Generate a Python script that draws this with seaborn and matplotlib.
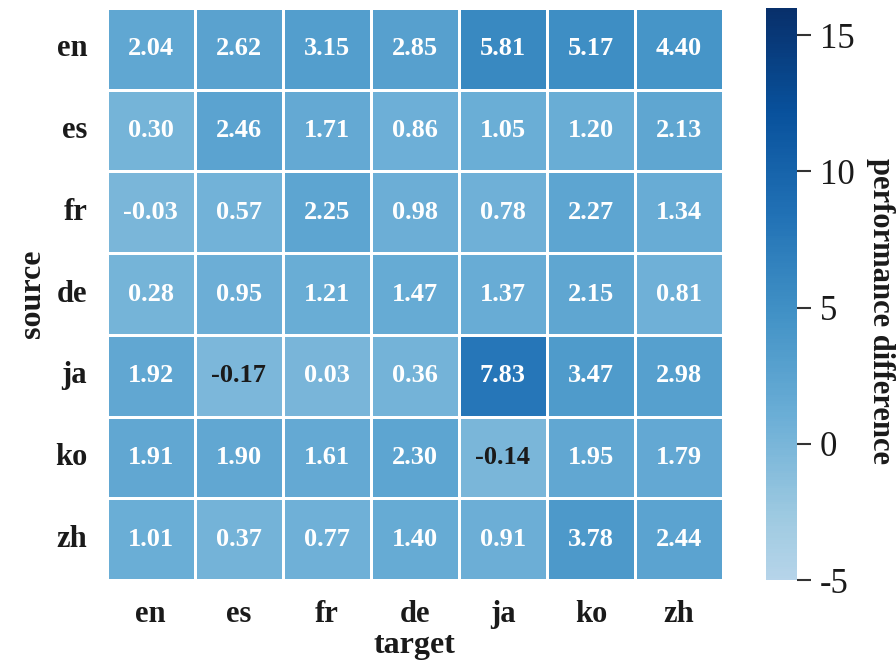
import numpy as np
import pandas as pd
import matplotlib
matplotlib.use("Agg")
import matplotlib.pyplot as plt
from matplotlib.colors import LinearSegmentedColormap
import seaborn as sns

langs = ["en", "es", "fr", "de", "ja", "ko", "zh"]

row_en = [2.04, 2.62, 3.15, 2.85, 5.81, 5.17, 4.40]
row_es = [0.30, 2.46, 1.71, 0.86, 1.05, 1.20, 2.13]
row_fr = [-0.03, 0.57, 2.25, 0.98, 0.78, 2.27, 1.34]
row_de = [0.28, 0.95, 1.21, 1.47, 1.37, 2.15, 0.81]
row_ja = [1.92, -0.17, 0.03, 0.36, 7.83, 3.47, 2.98]
row_ko = [1.91, 1.90, 1.61, 2.30, -0.14, 1.95, 1.79]
row_zh = [1.01, 0.37, 0.77, 1.40, 0.91, 3.78, 2.44]

data = pd.DataFrame(
    [row_en, row_es, row_fr, row_de, row_ja, row_ko, row_zh],
    index=pd.Index(langs, name="source"),
    columns=pd.Index(langs, name="target"),
)

sns.set_theme(style="white")
plt.rcParams["font.family"] = ["Liberation Serif", "DejaVu Serif"]
plt.rcParams["axes.unicode_minus"] = False

# Blues without its near-white lower end
base = plt.get_cmap("Blues")
cmap = LinearSegmentedColormap.from_list("blues_trunc", base(np.linspace(0.3, 1.0, 256)))

fig = plt.figure(figsize=(8.96, 6.66), dpi=100)
ax = fig.add_axes([0.119, 0.129, 0.688, 0.859])
cax = fig.add_axes([0.855, 0.129, 0.035, 0.859])

sns.heatmap(
    data, ax=ax, cbar_ax=cax, cmap=cmap, vmin=-5, vmax=16,
    annot=True, fmt=".2f", linewidths=0.8, linecolor="white",
    annot_kws={"fontsize": 19, "fontweight": "bold"},
)

# dark labels only on the palest cells
for txt in ax.texts:
    v = float(txt.get_text())
    txt.set_color("#1a1a1a" if v < -0.1 else "white")

ax.set_xlabel("target", fontsize=23, fontweight="bold", color="#1a1a1a", labelpad=2)
ax.set_ylabel("source", fontsize=23, fontweight="bold", color="#1a1a1a", labelpad=6)
ax.tick_params(axis="both", length=0, labelsize=22, pad=14, colors="#1a1a1a")
for lab in ax.get_xticklabels() + ax.get_yticklabels():
    lab.set_fontweight("bold")
ax.set_yticklabels(ax.get_yticklabels(), rotation=0)

cbar = ax.collections[0].colorbar
cbar.outline.set_visible(False)
cbar.set_ticks([-5, 0, 5, 10, 15])
cbar.ax.tick_params(length=10, width=1.5, color="#333333", labelsize=25, labelcolor="#1a1a1a", pad=6)
cbar.set_label("performance difference", fontsize=22, fontweight="bold",
               rotation=270, color="#1a1a1a", ha="center", va="center")
cbar.ax.yaxis.set_label_coords(3.66, 0.47)

fig.savefig("out.png", dpi=100)
